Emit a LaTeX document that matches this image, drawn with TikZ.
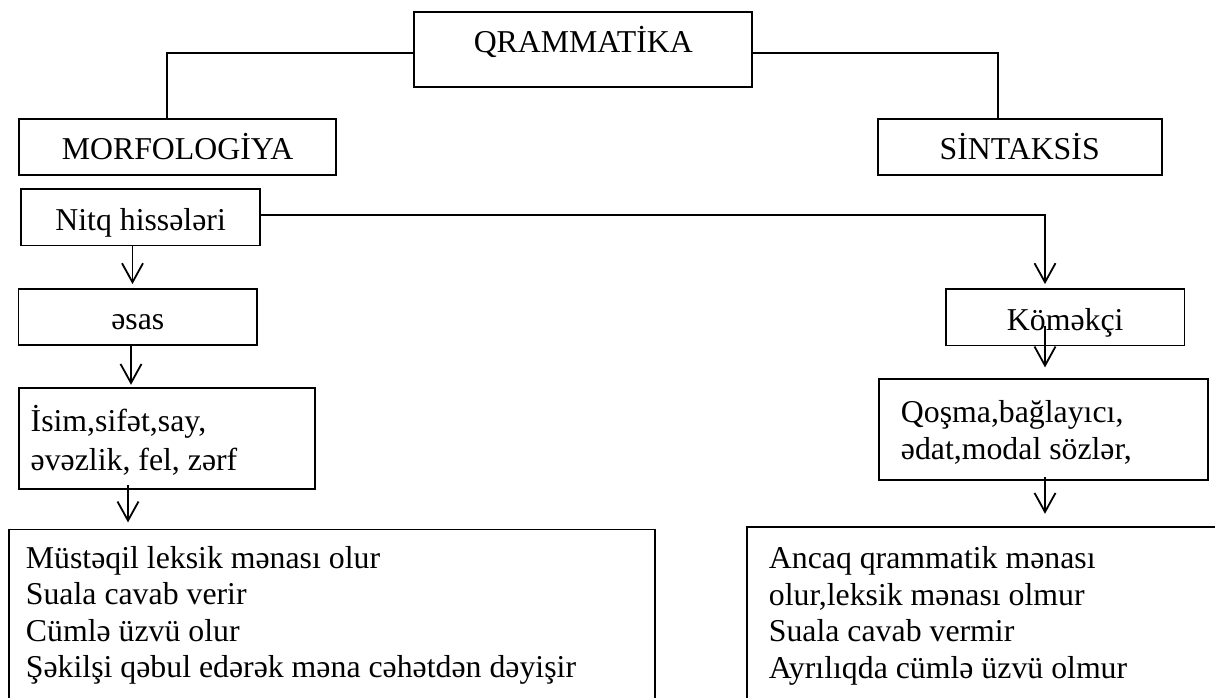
\documentclass[tikz,border=0pt]{standalone}
\usepackage{fontspec}
\setmainfont{Liberation Serif}
\usetikzlibrary{arrows.meta}
\begin{document}
\begin{tikzpicture}[x=1pt,y=-1pt, line width=1.8pt,
  every node/.style={font=\fontsize{31.8pt}{36.7pt}\selectfont},
  box/.style={draw, inner sep=0pt, anchor=base},
  mbox/.style={draw, inner sep=0pt, anchor=base west},
  arr/.style={-{Straight Barb[length=19pt,width=21pt]}}]
\useasboundingbox (0,0) rectangle (1215,698);
\clip (0,0) rectangle (1215,698);
\fill[white] (0,0) rectangle (1215,698);
% single-line boxes
\node[box, minimum width=338pt, text height=41pt, text depth=34.6pt] (gram) at (583.3,52.7) {QRAMMATİKA};
\node[box, minimum width=316.9pt, text height=41pt, text depth=15pt] (morf) at (177.6,160) {MORFOLOGİYA};
\node[box, minimum width=284pt, text height=41pt, text depth=15pt] (sint) at (1019.7,160) {SİNTAKSİS};
\node[box, minimum width=239.2pt, text height=40.7pt, text depth=15.5pt] (nitq) at (140.6,230) {Nitq hissələri};
\node[box, minimum width=238.8pt, text height=39.7pt, text depth=16.3pt] (esas) at (137.8,329) {əsas};
\node[box, minimum width=238.5pt, text height=40.7pt, text depth=15.5pt] (kom) at (1065.2,330) {Köməkçi};
% multi-line boxes
\node[mbox, text height=43.7pt, text depth=57.6pt] (isim) at (18.4,431.7)
  {\makebox[295.4pt][l]{\hspace*{11.4pt}\fontsize{31.8pt}{38.3pt}\selectfont\begin{tabular}[t]{@{}l@{}}İsim,sifət,say,\\əvəzlik, fel, zərf\end{tabular}}};
\node[mbox, text height=43.2pt, text depth=57.8pt] (qos) at (877.7,422.5)
  {\makebox[329.5pt][l]{\hspace*{22.3pt}\fontsize{31.8pt}{36.7pt}\selectfont\begin{tabular}[t]{@{}l@{}}Qoşma,bağlayıcı,\\ədat,modal sözlər,\end{tabular}}};
\node[mbox, text height=38.8pt, text depth=200pt] (lbig) at (7.7,568.3)
  {\makebox[646.3pt][l]{\hspace*{17.3pt}\fontsize{31.8pt}{36.5pt}\selectfont\begin{tabular}[t]{@{}l@{}}Müstəqil leksik mənası olur\\Suala cavab verir\\Cümlə üzvü olur\\Şəkilşi qəbul edərək məna cəhətdən dəyişir\end{tabular}}};
\node[mbox, text height=41.3pt, text depth=200pt] (rbig) at (746.3,568.3)
  {\makebox[520pt][l]{\hspace*{21.7pt}\fontsize{31.8pt}{36.7pt}\selectfont\begin{tabular}[t]{@{}l@{}}Ancaq qrammatik mənası\\olur,leksik mənası olmur\\Suala cavab vermir\\Ayrılıqda cümlə üzvü olmur\end{tabular}}};
% connectors
\draw (gram.west |- 0,53.3) -| (morf.north -| 167.2,0);
\draw (gram.east |- 0,53.3) -| (sint.north -| 998.1,0);
\draw[arr, shorten >=4.3pt] (nitq.east |- 0,215) -| (kom.north -| 1045,0);
\draw[arr, shorten >=4.3pt] (nitq.south -| 132.5,0) -- (esas.north -| 132.5,0);
\draw[arr, shorten >=2.3pt] (esas.south -| 131,0) -- (isim.north -| 131,0);
\draw[arr, shorten <=-5.3pt, shorten >=6.2pt] (isim.south -| 128,0) -- (lbig.north -| 128,0);
\draw[arr, shorten <=-20.5pt, shorten >=11pt] (kom.south -| 1045,0) -- (qos.north -| 1045,0);
\draw[arr, shorten <=-4.3pt, shorten >=12.3pt] (qos.south -| 1045,0) -- (rbig.north -| 1045,0);
\end{tikzpicture}
\end{document}
